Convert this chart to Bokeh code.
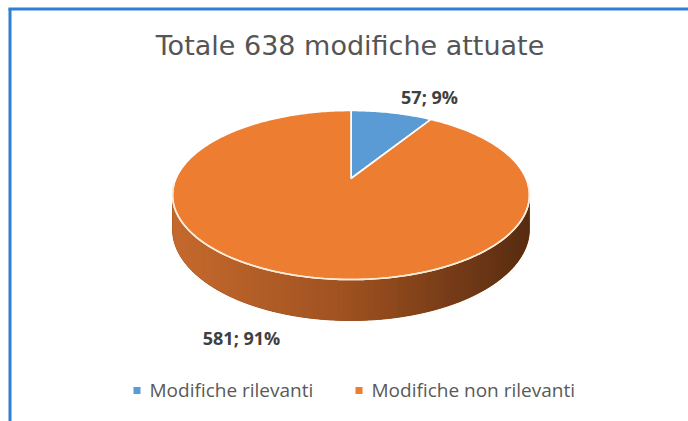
import numpy as np
from bokeh.plotting import figure
from bokeh.models import Range1d
from bokeh.core.properties import value
from bokeh.embed import file_html
from bokeh.resources import INLINE

# ---- data ----
categories = ["Modifiche rilevanti", "Modifiche non rilevanti"]
counts = [57, 581]
colors = ["#5B9BD5", "#ED7D31"]
title_text = "Totale 638 modifiche attuate"

total = sum(counts)
pcts = [round(100 * v / total) for v in counts]
labels = [f"{v}; {pc}%" for v, pc in zip(counts, pcts)]

W, H = 688, 421
p = figure(width=W, height=H, output_backend="svg", toolbar_location=None,
           x_range=Range1d(0, W), y_range=Range1d(H, 0), min_border=0)
p.axis.visible = False
p.grid.visible = False
p.outline_line_color = None
p.background_fill_color = "white"
p.border_fill_color = "white"

# ---- perspective pie geometry (pixel coords, y downward) ----
CX = 350.5
A, B, C = 46.52, 178.0, -0.1953
K = 175.0
H0 = 33.0


def proj(phi_deg):
    r = np.radians(phi_deg)
    u = np.sin(r)
    t = -np.cos(r)
    d = 1 + C * t
    return CX + K * u / d, (A * t + B) / d, H0 / d


# side wall (visible front half), shaded strips over a base
phiR = np.degrees(np.arccos(C))  # ~101.3
phiL = 360 - phiR
phis = np.linspace(phiR, phiL, 120)
tx, ty, th = proj(phis)
p.patch(list(tx) + list(tx[::-1]), list(ty) + list((ty + th)[::-1]),
        fill_color="#9a4f1e", line_color="#9a4f1e", line_width=1)
xs_s, ys_s, cols_s = [], [], []
stops_x = [172, 350, 529]
stops_c = [(198, 106, 46), (158, 81, 32), (88, 44, 17)]
for i in range(len(phis) - 1):
    j = min(i + 2, len(phis) - 1)
    xs_s.append([tx[i], tx[j], tx[j], tx[i]])
    ys_s.append([ty[i], ty[j], ty[j] + th[j], ty[i] + th[i]])
    xm = (tx[i] + tx[i + 1]) / 2
    col = [int(np.interp(xm, stops_x, [c[k] for c in stops_c])) for k in range(3)]
    cols_s.append("#%02x%02x%02x" % tuple(col))
p.patches(xs_s, ys_s, fill_color=cols_s, line_color=None)

# top face slices
start = 0.0
for v, col in zip(counts, colors):
    span = 360.0 * v / total
    arc = np.linspace(start, start + span, max(int(span), 4))
    px, py, _ = proj(arc)
    p.patch([CX] + list(px), [B] + list(py), fill_color=col,
            line_color="white", line_width=1.6)
    start += span

# front highlight
hx, hy, _ = proj(np.linspace(phiR - 8, phiL + 8, 200))
p.line(hx, hy, line_color="#FCEBD6", line_width=1.6)

# data labels
p.text(x=[429, 241], y=[96.5, 337.5], text=labels, text_font=value("Open Sans"),
       text_font_style="bold", text_font_size="18px", text_color="#404040",
       text_align="center", text_baseline="middle")

# title
p.text(x=[349.5], y=[45], text=[title_text], text_font=value("DejaVu Sans"),
       text_font_size="27px", text_color="#555555",
       text_align="center", text_baseline="middle")

# legend
p.scatter(x=[136.5, 358.5], y=[390, 390], marker="square", size=7,
          fill_color=colors, line_color=None)
p.text(x=[149, 371], y=[389, 389], text=categories, text_font=value("Open Sans"),
       text_font_size="19px", text_color="#595959",
       text_align="left", text_baseline="middle")

# chart frame (left and top visible)
p.line([9.5, 9.5], [8, H], line_color="#2F7FD2", line_width=3)
p.line([8, W], [8.5, 8.5], line_color="#2F7FD2", line_width=3)

open("out.html", "w").write(file_html(p, INLINE))
